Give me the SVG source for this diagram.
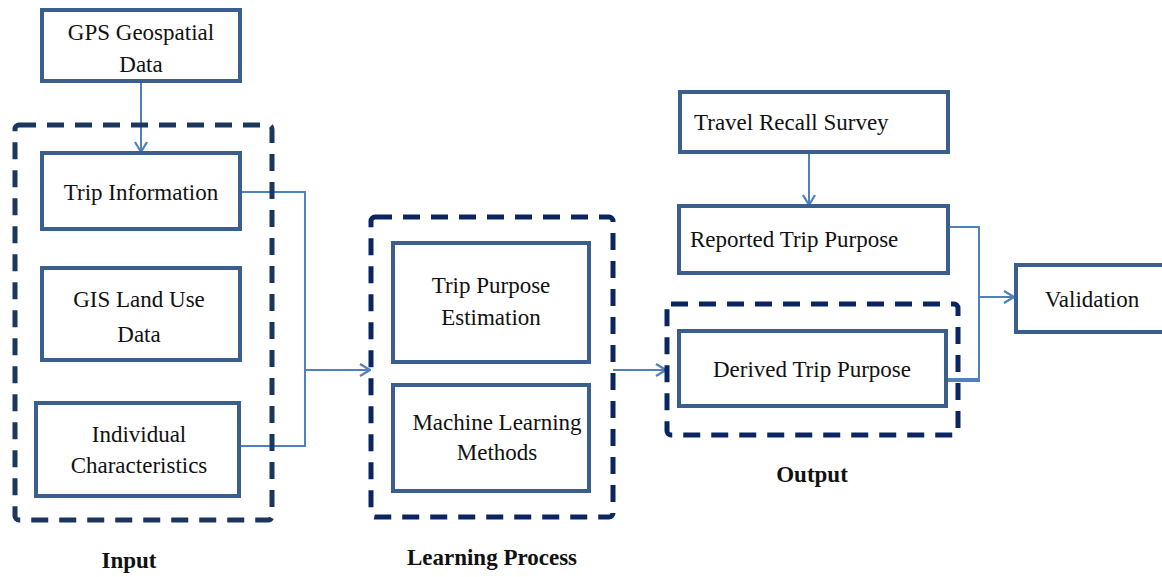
<svg xmlns="http://www.w3.org/2000/svg" width="1162" height="577" viewBox="0 0 1162 577">
  <defs>
    <marker id="arrow" viewBox="0 0 12 14" refX="11" refY="7" markerWidth="12" markerHeight="14" markerUnits="userSpaceOnUse" orient="auto">
      <path d="M1,1 L11,7 L1,13" fill="none" stroke="#4f81bd" stroke-width="2.2"/>
    </marker>
  </defs>
  <style>
    .box { fill: #ffffff; stroke: #3a5f8e; stroke-width: 4; }
    .group { fill: none; stroke-width: 5; stroke-dasharray: 17 11; }
    .g-input { stroke: #1b365f; }
    .g-other { stroke: #0a2561; }
    .lbl { font-family: "Liberation Serif", "Times New Roman", serif; font-size: 23px; fill: #111111; }
    .mid { text-anchor: middle; }
    .title { font-family: "Liberation Serif", "Times New Roman", serif; font-size: 23px; font-weight: bold; fill: #111111; text-anchor: middle; }
    .wire { fill: none; stroke: #4f81bd; stroke-width: 2; }
    .wire-thick { stroke-width: 4; }
  </style>
  <rect width="1162" height="577" fill="#ffffff"/>

  <!-- connectors -->
  <g id="connectors">
    <line class="wire" x1="141" y1="81" x2="141" y2="152" marker-end="url(#arrow)"/>
    <polyline class="wire" points="240,192 305,192 305,446 240,446"/>
    <line class="wire" x1="305" y1="370" x2="370" y2="370" marker-end="url(#arrow)"/>
    <line class="wire" x1="613" y1="370" x2="666" y2="370" marker-end="url(#arrow)"/>
    <line class="wire" x1="809" y1="152" x2="809" y2="205" marker-end="url(#arrow)"/>
    <polyline class="wire" points="948,227 979,227 979,380"/>
    <line class="wire wire-thick" x1="946" y1="380" x2="980" y2="380"/>
    <line class="wire" x1="979" y1="297" x2="1014" y2="297" marker-end="url(#arrow)"/>
  </g>

  <!-- group containers -->
  <g id="input-group">
    <rect class="group g-input" x="15" y="125" width="257" height="395" rx="4"/>
    <text class="title" x="129" y="568">Input</text>
  </g>
  <g id="learning-group">
    <rect class="group g-other" x="371" y="217" width="242" height="300" rx="4"/>
    <text class="title" x="492" y="565">Learning Process</text>
  </g>
  <g id="output-group">
    <rect class="group g-other" x="667" y="304" width="291" height="131" rx="4"/>
    <text class="title" x="812" y="482">Output</text>
  </g>

  <!-- nodes -->
  <g id="gps-data">
    <rect class="box" x="42" y="10" width="198" height="71"/>
    <text class="lbl mid" x="141" y="40">GPS Geospatial</text>
    <text class="lbl mid" x="141" y="72">Data</text>
  </g>
  <g id="trip-information">
    <rect class="box" x="42" y="153" width="198" height="76"/>
    <text class="lbl mid" x="141" y="200">Trip Information</text>
  </g>
  <g id="gis-land-use">
    <rect class="box" x="42" y="268" width="198" height="92"/>
    <text class="lbl mid" x="139" y="307">GIS Land Use</text>
    <text class="lbl mid" x="139" y="342">Data</text>
  </g>
  <g id="individual-characteristics">
    <rect class="box" x="36" y="403" width="203" height="93"/>
    <text class="lbl mid" x="139" y="442">Individual</text>
    <text class="lbl mid" x="139" y="473">Characteristics</text>
  </g>
  <g id="trip-purpose-estimation">
    <rect class="box" x="393" y="243" width="196" height="119"/>
    <text class="lbl mid" x="491" y="293">Trip Purpose</text>
    <text class="lbl mid" x="491" y="325">Estimation</text>
  </g>
  <g id="machine-learning-methods">
    <rect class="box" x="393" y="385" width="196" height="106"/>
    <text class="lbl mid" x="497" y="430">Machine Learning</text>
    <text class="lbl mid" x="497" y="460">Methods</text>
  </g>
  <g id="travel-recall-survey">
    <rect class="box" x="680" y="92" width="268" height="60"/>
    <text class="lbl" x="694" y="130">Travel Recall Survey</text>
  </g>
  <g id="reported-trip-purpose">
    <rect class="box" x="679" y="206" width="269" height="67"/>
    <text class="lbl" x="690" y="247">Reported Trip Purpose</text>
  </g>
  <g id="derived-trip-purpose">
    <rect class="box" x="679" y="331" width="267" height="75"/>
    <text class="lbl mid" x="812" y="377">Derived Trip Purpose</text>
  </g>
  <g id="validation">
    <rect class="box" x="1016" y="265" width="160" height="67"/>
    <text class="lbl mid" x="1092" y="307">Validation</text>
  </g>
</svg>
